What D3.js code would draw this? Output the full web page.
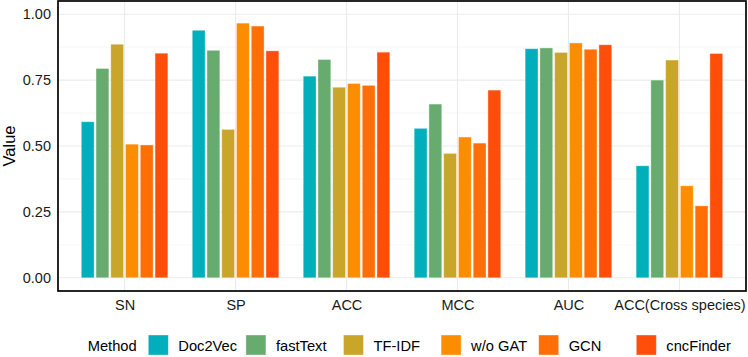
<meta http-equiv="Content-type" content="text/html;charset=UTF-8">
<html>
	<head>
		<title>Method comparison</title>
		<script src="https://cdn.jsdelivr.net/npm/d3@7"></script>
		<style>
			body { margin: 0; background: #fff; }
			text { font-family: "Liberation Sans", Arial, sans-serif; }
		</style>
	</head>
	<body>
		<div id="svg"></div>
		<script>
			var metrics = ["SN", "SP", "ACC", "MCC", "AUC", "ACC(Cross species)"];
			var methods = ["Doc2Vec", "fastText", "TF-IDF", "w/o GAT", "GCN", "cncFinder"];
			var colors = ["#00AFBB", "#67AB6F", "#C9A52A", "#FC8D00", "#FF6F05", "#FF4E0A"];
			// one array per method, in metric order
			var doc2vec = [0.592, 0.939, 0.765, 0.567, 0.869, 0.425];
			var fasttext = [0.794, 0.863, 0.828, 0.659, 0.872, 0.750];
			var tfidf = [0.886, 0.563, 0.723, 0.472, 0.855, 0.826];
			var woGat = [0.507, 0.966, 0.737, 0.534, 0.891, 0.349];
			var gcn = [0.504, 0.955, 0.730, 0.511, 0.867, 0.273];
			var cncfinder = [0.852, 0.861, 0.856, 0.712, 0.884, 0.851];
			var majorTicks = [0, 0.25, 0.5, 0.75, 1];
			var minorTicks = [0.125, 0.375, 0.625, 0.875];

			var SVG_WIDTH = 748, SVG_HEIGHT = 357;
			var PL = 58, PR = 746, PT = 1, PB = 291;
			var series = [doc2vec, fasttext, tfidf, woGat, gcn, cncfinder];
			var rows = [];
			series.forEach(function(vals, j){
				vals.forEach(function(v, i){
					rows.push({metric: metrics[i], method: methods[j], value: v});
				});
			});

			var svg = d3.select("#svg").append("svg").attr("width", SVG_WIDTH).attr("height", SVG_HEIGHT);
			var x = d3.scalePoint().domain(metrics).range([PL, PR]).padding(0.6);
			var xi = d3.scaleBand().domain(methods).range([-43.3, 43.3]).paddingInner(0.13);
			var y = d3.scaleLinear().domain([-0.05, 1.05]).range([PB, PT]);
			var color = d3.scaleOrdinal().domain(methods).range(colors);

			// grid
			svg.selectAll(".minor").data(minorTicks).enter().append("line")
				.attr("x1", PL).attr("x2", PR).attr("y1", function(d){ return y(d); }).attr("y2", function(d){ return y(d); })
				.style("stroke", "#F2F2F2").style("stroke-width", 0.6);
			svg.selectAll(".major").data(majorTicks).enter().append("line")
				.attr("x1", PL).attr("x2", PR).attr("y1", function(d){ return y(d); }).attr("y2", function(d){ return y(d); })
				.style("stroke", "#EBEBEB").style("stroke-width", 1.1);
			svg.selectAll(".vgrid").data(metrics).enter().append("line")
				.attr("x1", function(d){ return x(d); }).attr("x2", function(d){ return x(d); }).attr("y1", PT).attr("y2", PB)
				.style("stroke", "#EBEBEB").style("stroke-width", 1.1);

			// bars
			svg.selectAll(".bar").data(rows).enter().append("rect")
				.attr("x", function(d){ return x(d.metric) + xi(d.method); })
				.attr("width", xi.bandwidth())
				.attr("y", function(d){ return y(d.value); })
				.attr("height", function(d){ return y(0) - y(d.value); })
				.style("fill", function(d){ return color(d.method); })
				.style("stroke", "#fff").style("stroke-opacity", 0.45).style("stroke-width", 0.8);

			// panel border
			svg.append("rect").attr("x", PL).attr("y", PT).attr("width", PR - PL).attr("height", PB - PT)
				.style("fill", "none").style("stroke", "#000").style("stroke-width", 1.7);

			// y axis labels
			var yAxis = d3.axisLeft(y).tickValues(majorTicks).tickFormat(d3.format(".2f")).tickSize(0).tickPadding(7);
			var gy = svg.append("g").attr("transform", "translate(" + PL + ",0)").call(yAxis);
			gy.select(".domain").remove();
			gy.selectAll("text").style("font-size", "14.5px").style("fill", "#1a1a1a").style("font-family", "'Liberation Sans', Arial, sans-serif");

			// x axis labels
			var xAxis = d3.axisBottom(x).tickSize(0).tickPadding(9);
			var gx = svg.append("g").attr("transform", "translate(0," + PB + ")").call(xAxis);
			gx.select(".domain").remove();
			gx.selectAll("text").style("font-size", "14.5px").style("fill", "#1a1a1a").style("font-family", "'Liberation Sans', Arial, sans-serif");

			svg.append("text").attr("transform", "translate(15,146) rotate(-90)").attr("text-anchor", "middle")
				.style("font-size", "16.5px").style("fill", "#000").text("Value");

			// legend
			svg.append("text").attr("x", 87.7).attr("y", 350.5).style("font-size", "14.7px").style("fill", "#000").text("Method");
			var lg = svg.selectAll(".lg").data(methods).enter().append("g")
				.attr("transform", function(d, i){ return "translate(" + (148.3 + i * 97.6) + ",335)"; });
			lg.append("rect").attr("width", 20).attr("height", 20)
				.style("fill", function(d){ return color(d); })
				.style("stroke", "#fff").style("stroke-opacity", 0.45).style("stroke-width", 0.8);
			lg.append("text").attr("x", 30).attr("y", 15.5).style("font-size", "14.7px").style("fill", "#000")
				.text(function(d){ return d; });
		</script>
	</body>
</html>
